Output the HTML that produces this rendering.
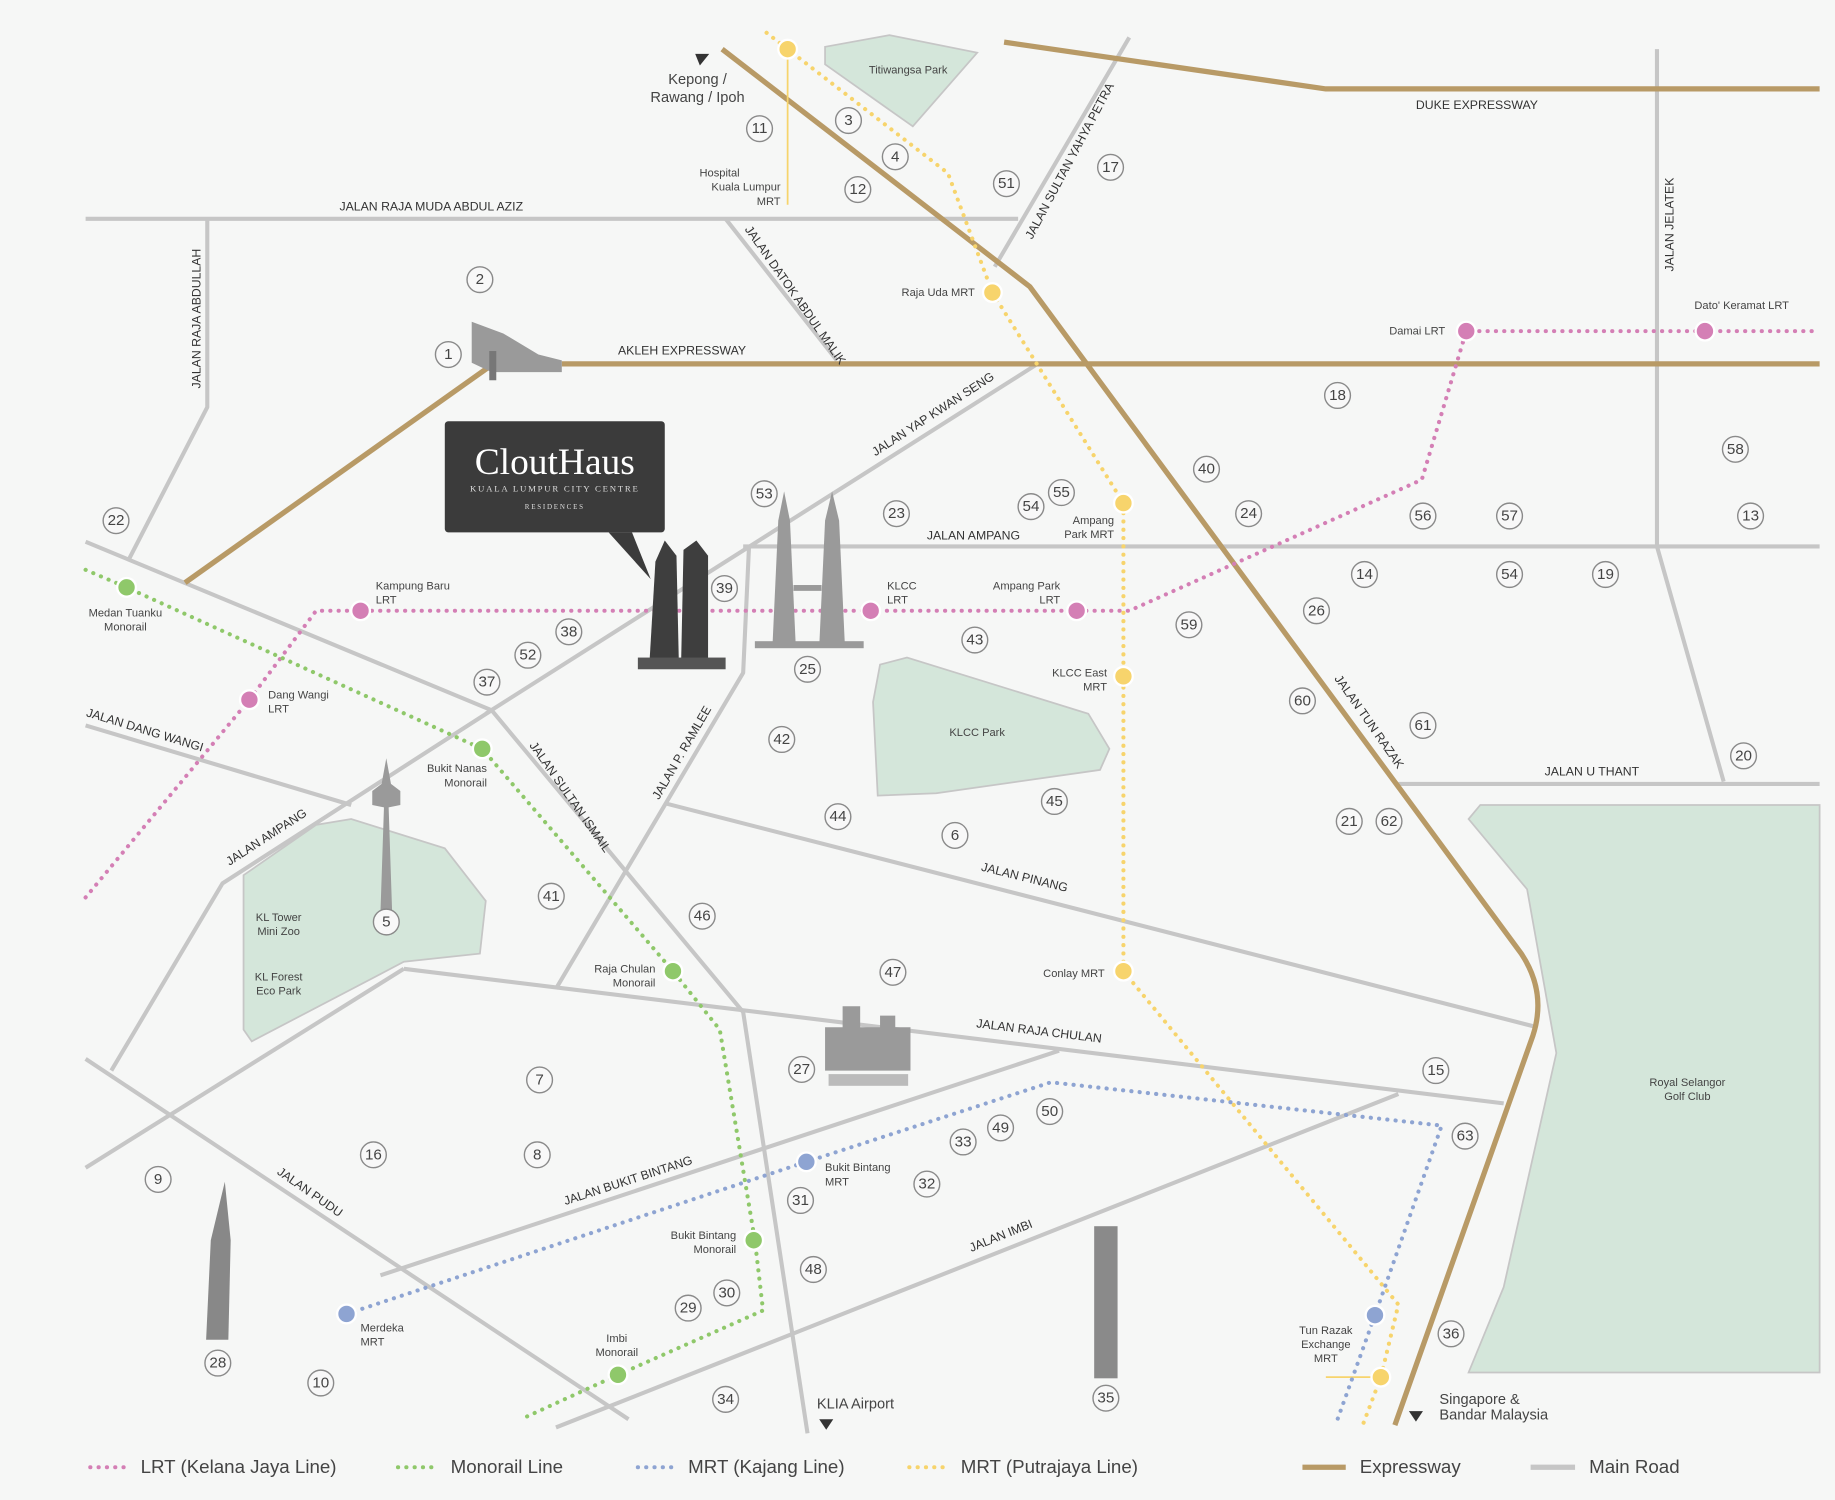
<!DOCTYPE html>
<html><head><meta charset="utf-8"><style>
html,body{margin:0;padding:0;background:#f6f7f6;}
svg{display:block;font-family:"Liberation Sans",sans-serif;}
.r{fill:none;stroke:#c6c6c6;stroke-width:3.5;stroke-linejoin:round}
.e{fill:none;stroke:#b89a66;stroke-width:4.5;stroke-linejoin:round}
.lrt{fill:none;stroke:#d47fb5;stroke-width:3.5;stroke-dasharray:0.1 7;stroke-linecap:round}
.mono{fill:none;stroke:#8fc86a;stroke-width:3.5;stroke-dasharray:0.1 7;stroke-linecap:round}
.kaj{fill:none;stroke:#8ea4d2;stroke-width:3.5;stroke-dasharray:0.1 7;stroke-linecap:round}
.put{fill:none;stroke:#f7d46c;stroke-width:3.5;stroke-dasharray:0.1 7;stroke-linecap:round}
.park{fill:#d4e6da;stroke:#c6c6c6;stroke-width:1.5}
.n circle{fill:#f8f8f8;stroke:#8a8a8a;stroke-width:1.2}
.n text{font-size:13px;fill:#444;text-anchor:middle;dominant-baseline:central}
.rl{font-size:10.5px;fill:#333;}
.sl{font-size:9.5px;fill:#444;}
.lg{font-size:16px;fill:#444;}
</style></head><body>
<svg width="1835" height="1500" viewBox="0 0 1568 1282" xmlns="http://www.w3.org/2000/svg">
<rect width="1568" height="1282" fill="#f6f7f6"/>
<!-- parks -->
<polygon class="park" points="705,40 760,30 835,45 780,108 705,55"/>
<polygon class="park" points="752,568 775,562 930,610 948,640 940,658 800,678 750,680 746,600"/>
<polygon class="park" points="208,748 270,705 300,700 380,725 415,770 410,815 345,822 215,890 208,880"/>
<polygon class="park" points="1265,688 1555,688 1555,1173 1255,1173 1285,1100 1330,900 1305,760 1255,700"/>
<text class="sl" x="776" y="63" text-anchor="middle">Titiwangsa Park</text>
<text class="sl" x="835" y="629" text-anchor="middle">KLCC Park</text>
<text class="sl" x="238" y="787" text-anchor="middle">KL Tower</text><text class="sl" x="238" y="799" text-anchor="middle">Mini Zoo</text>
<text class="sl" x="238" y="838" text-anchor="middle">KL Forest</text><text class="sl" x="238" y="850" text-anchor="middle">Eco Park</text>
<text class="sl" x="1442" y="928" text-anchor="middle">Royal Selangor</text><text class="sl" x="1442" y="940" text-anchor="middle">Golf Club</text>
<!-- main roads -->
<polyline class="r" points="73,187 870,187"/>
<polyline class="r" points="177,187 177,348 110,478"/>
<polyline class="r" points="620,187 715,308"/>
<polyline class="r" points="965,32 850,228"/>
<polyline class="r" points="1416,42 1416,467 1473,668"/>
<polyline class="r" points="885,312 415,610"/>
<polyline class="r" points="73,463 420,607 635,865 690,1225"/>
<polyline class="r" points="635,467 1555,467"/>
<polyline class="r" points="95,915 190,755 420,607"/>
<polyline class="r" points="73,620 300,688"/>
<polyline class="r" points="640,467 635,575 475,845"/>
<polyline class="r" points="570,687 1310,877"/>
<polyline class="r" points="345,828 1285,943"/>
<polyline class="r" points="73,905 537,1213"/>
<polyline class="r" points="73,998 345,828"/>
<polyline class="r" points="325,1090 905,898"/>
<polyline class="r" points="475,1220 1195,935"/>
<polyline class="r" points="1195,670 1555,670"/>
<!-- expressways -->
<polyline class="e" points="480,311 1555,311"/>
<polyline class="e" points="858,36 1133,76 1555,76"/>
<polyline class="e" points="158,498 420,312"/>
<path class="e" d="M617,42 L880,245 L1300,815 Q1322,848 1310,885 L1192,1218"/>
<!-- transit lines -->
<line x1="673" y1="42" x2="673" y2="175" stroke="#f7d46c" stroke-width="1.5"/>
<line x1="1133" y1="1177" x2="1180" y2="1177" stroke="#f7d46c" stroke-width="1.5"/>
<polyline class="lrt" points="73,767 213,598 270,522 965,522 1215,410 1253,283 1555,283"/>
<polyline class="mono" points="73,487 108,502 412,640 575,830 615,880 645,1060 652,1120 528,1175 445,1213"/>
<polyline class="put" points="655,28 673,42 810,148 848,250 960,430 960,830 1195,1115 1180,1177 1163,1222"/>
<polyline class="kaj" points="296,1123 689,993 898,925 1232,962 1175,1124 1143,1213"/>
<!-- stations -->
<g stroke="#fff" stroke-width="2">
<g fill="#d47fb5"><circle cx="308" cy="522" r="8"/><circle cx="213" cy="598" r="8"/><circle cx="744" cy="522" r="8"/><circle cx="920" cy="522" r="8"/><circle cx="1253" cy="283" r="8"/><circle cx="1457" cy="283" r="8"/></g>
<g fill="#8fc86a"><circle cx="108" cy="502" r="8"/><circle cx="412" cy="640" r="8"/><circle cx="575" cy="830" r="8"/><circle cx="644" cy="1060" r="8"/><circle cx="528" cy="1175" r="8"/></g>
<g fill="#f7d46c"><circle cx="673" cy="42" r="8"/><circle cx="848" cy="250" r="8"/><circle cx="960" cy="430" r="8"/><circle cx="960" cy="578" r="8"/><circle cx="960" cy="830" r="8"/><circle cx="1180" cy="1177" r="8"/></g>
<g fill="#8ea4d2"><circle cx="296" cy="1123" r="8"/><circle cx="689" cy="993" r="8"/><circle cx="1175" cy="1124" r="8"/></g>
</g>
<!-- road labels -->
<g class="rl">
<text x="290" y="180">JALAN RAJA MUDA ABDUL AZIZ</text>
<text x="528" y="303">AKLEH EXPRESSWAY</text>
<text x="1210" y="93">DUKE EXPRESSWAY</text>
<text x="792" y="461">JALAN AMPANG</text>
<text x="1320" y="663">JALAN U THANT</text>
<text transform="translate(171,332) rotate(-90)">JALAN RAJA ABDULLAH</text>
<text transform="translate(1430,232) rotate(-90)">JALAN JELATEK</text>
<text transform="translate(882,205) rotate(-62)">JALAN SULTAN YAHYA PETRA</text>
<text transform="translate(636,196) rotate(55)">JALAN DATOK ABDUL MALIK</text>
<text transform="translate(748,390) rotate(-33)">JALAN YAP KWAN SENG</text>
<text transform="translate(73,612) rotate(17)">JALAN DANG WANGI</text>
<text transform="translate(196,740) rotate(-33)">JALAN AMPANG</text>
<text transform="translate(452,637) rotate(55)">JALAN SULTAN ISMAIL</text>
<text transform="translate(563,684) rotate(-60)">JALAN P. RAMLEE</text>
<text transform="translate(838,744) rotate(14)">JALAN PINANG</text>
<text transform="translate(834,878) rotate(7)">JALAN RAJA CHULAN</text>
<text transform="translate(236,1003) rotate(35)">JALAN PUDU</text>
<text transform="translate(483,1030) rotate(-18)">JALAN BUKIT BINTANG</text>
<text transform="translate(830,1070) rotate(-22)">JALAN IMBI</text>
<text transform="translate(1140,580) rotate(55)">JALAN TUN RAZAK</text>
</g>
<!-- station labels -->
<g class="sl">
<text x="632" y="151" text-anchor="end">Hospital</text><text x="667" y="163" text-anchor="end">Kuala Lumpur</text><text x="667" y="175" text-anchor="end">MRT</text>
<text x="833" y="253" text-anchor="end">Raja Uda MRT</text>
<text x="1235" y="286" text-anchor="end">Damai LRT</text>
<text x="1448" y="264">Dato' Keramat LRT</text>
<text x="952" y="448" text-anchor="end">Ampang</text><text x="952" y="460" text-anchor="end">Park MRT</text>
<text x="321" y="504">Kampung Baru</text><text x="321" y="516">LRT</text>
<text x="758" y="504">KLCC</text><text x="758" y="516">LRT</text>
<text x="906" y="504" text-anchor="end">Ampang Park</text><text x="906" y="516" text-anchor="end">LRT</text>
<text x="946" y="578" text-anchor="end">KLCC East</text><text x="946" y="590" text-anchor="end">MRT</text>
<text x="107" y="527" text-anchor="middle">Medan Tuanku</text><text x="107" y="539" text-anchor="middle">Monorail</text>
<text x="229" y="597">Dang Wangi</text><text x="229" y="609">LRT</text>
<text x="416" y="660" text-anchor="end">Bukit Nanas</text><text x="416" y="672" text-anchor="end">Monorail</text>
<text x="560" y="831" text-anchor="end">Raja Chulan</text><text x="560" y="843" text-anchor="end">Monorail</text>
<text x="944" y="835" text-anchor="end">Conlay MRT</text>
<text x="705" y="1001">Bukit Bintang</text><text x="705" y="1013">MRT</text>
<text x="629" y="1059" text-anchor="end">Bukit Bintang</text><text x="629" y="1071" text-anchor="end">Monorail</text>
<text x="308" y="1138">Merdeka</text><text x="308" y="1150">MRT</text>
<text x="527" y="1147" text-anchor="middle">Imbi</text><text x="527" y="1159" text-anchor="middle">Monorail</text>
<text x="1133" y="1140" text-anchor="middle">Tun Razak</text><text x="1133" y="1152" text-anchor="middle">Exchange</text><text x="1133" y="1164" text-anchor="middle">MRT</text>
</g>
<g font-size="12.5" fill="#444">
<text x="596" y="72" text-anchor="middle">Kepong /</text><text x="596" y="87" text-anchor="middle">Rawang / Ipoh</text>
<text x="698" y="1204">KLIA Airport</text>
<text x="1230" y="1200">Singapore &amp;</text><text x="1230" y="1213">Bandar Malaysia</text>
</g>
<polygon points="594,46 606,46 598,56" fill="#333"/>
<polygon points="700,1213 712,1213 706,1222" fill="#333"/>
<polygon points="1204,1206 1216,1206 1210,1215" fill="#333"/>
<!-- buildings -->
<g fill="#9a9a9a">
<path d="M403,275 L430,285 L460,303 L480,308 L480,318 L420,318 L403,310 Z"/>
<path d="M418,300 L418,325 L424,325 L424,300Z" fill="#777"/>
<path d="M660,553 L665,445 L670,420 L675,445 L680,553Z"/><path d="M700,553 L705,445 L711,420 L717,445 L722,553Z"/>
<rect x="645" y="548" width="93" height="6"/><rect x="678" y="500" width="24" height="5"/>
<path d="M325,780 L328,690 L318,688 L318,676 L326,670 L330,648 L334,670 L342,676 L342,688 L332,690 L335,780Z"/>
<path d="M176,1145 L180,1060 L192,1010 L197,1060 L195,1145Z" fill="#888"/>
<rect x="935" y="1048" width="20" height="130" fill="#8a8a8a"/>
<path d="M705,878 L720,878 L720,860 L735,860 L735,878 L752,878 L752,868 L765,868 L765,878 L778,878 L778,915 L705,915Z"/>
<rect x="708" y="918" width="68" height="10" fill="#bbb"/>
</g>
<g fill="#3e3e3e">
<path d="M555,565 L560,480 L568,462 L578,475 L580,565Z"/>
<path d="M582,565 L584,470 L595,462 L605,475 L605,565Z"/>
<rect x="545" y="562" width="75" height="10" fill="#555"/>
</g>
<!-- CloutHaus box -->
<rect x="380" y="360" width="188" height="95" rx="3" fill="#3b3b3b"/>
<polygon points="520,455 540,455 556,495" fill="#3b3b3b"/>
<text x="474" y="405" text-anchor="middle" font-family="Liberation Serif,serif" font-size="32" fill="#fff">CloutHaus</text>
<text x="474" y="420" text-anchor="middle" font-family="Liberation Serif,serif" font-size="7.5" fill="#ddd" letter-spacing="1.5">KUALA LUMPUR CITY CENTRE</text>
<text x="474" y="435" text-anchor="middle" font-family="Liberation Serif,serif" font-size="6" fill="#ddd" letter-spacing="1.5">RESIDENCES</text>
<!-- numbers -->
<g class="n">
<g transform="translate(649,110)"><circle r="11"/><text>11</text></g>
<g transform="translate(725,103)"><circle r="11"/><text>3</text></g>
<g transform="translate(765,134)"><circle r="11"/><text>4</text></g>
<g transform="translate(733,162)"><circle r="11"/><text>12</text></g>
<g transform="translate(860,157)"><circle r="11"/><text>51</text></g>
<g transform="translate(949,143)"><circle r="11"/><text>17</text></g>
<g transform="translate(410,239)"><circle r="11"/><text>2</text></g>
<g transform="translate(383,303)"><circle r="11"/><text>1</text></g>
<g transform="translate(1143,338)"><circle r="11"/><text>18</text></g>
<g transform="translate(1483,384)"><circle r="11"/><text>58</text></g>
<g transform="translate(1031,401)"><circle r="11"/><text>40</text></g>
<g transform="translate(653,422)"><circle r="11"/><text>53</text></g>
<g transform="translate(766,439)"><circle r="11"/><text>23</text></g>
<g transform="translate(881,433)"><circle r="11"/><text>54</text></g>
<g transform="translate(907,421)"><circle r="11"/><text>55</text></g>
<g transform="translate(1067,439)"><circle r="11"/><text>24</text></g>
<g transform="translate(1216,441)"><circle r="11"/><text>56</text></g>
<g transform="translate(1290,441)"><circle r="11"/><text>57</text></g>
<g transform="translate(1496,441)"><circle r="11"/><text>13</text></g>
<g transform="translate(99,445)"><circle r="11"/><text>22</text></g>
<g transform="translate(1166,491)"><circle r="11"/><text>14</text></g>
<g transform="translate(1290,491)"><circle r="11"/><text>54</text></g>
<g transform="translate(1372,491)"><circle r="11"/><text>19</text></g>
<g transform="translate(1125,522)"><circle r="11"/><text>26</text></g>
<g transform="translate(619,503)"><circle r="11"/><text>39</text></g>
<g transform="translate(486,540)"><circle r="11"/><text>38</text></g>
<g transform="translate(833,547)"><circle r="11"/><text>43</text></g>
<g transform="translate(1016,534)"><circle r="11"/><text>59</text></g>
<g transform="translate(451,560)"><circle r="11"/><text>52</text></g>
<g transform="translate(690,572)"><circle r="11"/><text>25</text></g>
<g transform="translate(416,583)"><circle r="11"/><text>37</text></g>
<g transform="translate(1113,599)"><circle r="11"/><text>60</text></g>
<g transform="translate(1216,620)"><circle r="11"/><text>61</text></g>
<g transform="translate(668,632)"><circle r="11"/><text>42</text></g>
<g transform="translate(1490,646)"><circle r="11"/><text>20</text></g>
<g transform="translate(901,685)"><circle r="11"/><text>45</text></g>
<g transform="translate(716,698)"><circle r="11"/><text>44</text></g>
<g transform="translate(816,714)"><circle r="11"/><text>6</text></g>
<g transform="translate(1153,702)"><circle r="11"/><text>21</text></g>
<g transform="translate(1187,702)"><circle r="11"/><text>62</text></g>
<g transform="translate(471,766)"><circle r="11"/><text>41</text></g>
<g transform="translate(600,783)"><circle r="11"/><text>46</text></g>
<g transform="translate(330,788)"><circle r="11"/><text>5</text></g>
<g transform="translate(763,831)"><circle r="11"/><text>47</text></g>
<g transform="translate(685,914)"><circle r="11"/><text>27</text></g>
<g transform="translate(1227,915)"><circle r="11"/><text>15</text></g>
<g transform="translate(461,923)"><circle r="11"/><text>7</text></g>
<g transform="translate(897,950)"><circle r="11"/><text>50</text></g>
<g transform="translate(855,964)"><circle r="11"/><text>49</text></g>
<g transform="translate(823,976)"><circle r="11"/><text>33</text></g>
<g transform="translate(1252,971)"><circle r="11"/><text>63</text></g>
<g transform="translate(319,987)"><circle r="11"/><text>16</text></g>
<g transform="translate(459,987)"><circle r="11"/><text>8</text></g>
<g transform="translate(135,1008)"><circle r="11"/><text>9</text></g>
<g transform="translate(792,1012)"><circle r="11"/><text>32</text></g>
<g transform="translate(684,1026)"><circle r="11"/><text>31</text></g>
<g transform="translate(695,1085)"><circle r="11"/><text>48</text></g>
<g transform="translate(621,1105)"><circle r="11"/><text>30</text></g>
<g transform="translate(588,1118)"><circle r="11"/><text>29</text></g>
<g transform="translate(1240,1140)"><circle r="11"/><text>36</text></g>
<g transform="translate(186,1165)"><circle r="11"/><text>28</text></g>
<g transform="translate(274,1182)"><circle r="11"/><text>10</text></g>
<g transform="translate(620,1196)"><circle r="11"/><text>34</text></g>
<g transform="translate(945,1195)"><circle r="11"/><text>35</text></g>
</g>
<!-- legend -->
<line class="lrt" x1="77" y1="1254" x2="108" y2="1254"/><text class="lg" x="120" y="1259">LRT (Kelana Jaya Line)</text>
<line class="mono" x1="340" y1="1254" x2="372" y2="1254"/><text class="lg" x="385" y="1259">Monorail Line</text>
<line class="kaj" x1="545" y1="1254" x2="576" y2="1254"/><text class="lg" x="588" y="1259">MRT (Kajang Line)</text>
<line class="put" x1="777" y1="1254" x2="808" y2="1254"/><text class="lg" x="821" y="1259">MRT (Putrajaya Line)</text>
<line x1="1113" y1="1254" x2="1150" y2="1254" stroke="#b89a66" stroke-width="4.5"/><text class="lg" x="1162" y="1259">Expressway</text>
<line x1="1308" y1="1254" x2="1346" y2="1254" stroke="#c6c6c6" stroke-width="4.5"/><text class="lg" x="1358" y="1259">Main Road</text>
</svg>
</body></html>
